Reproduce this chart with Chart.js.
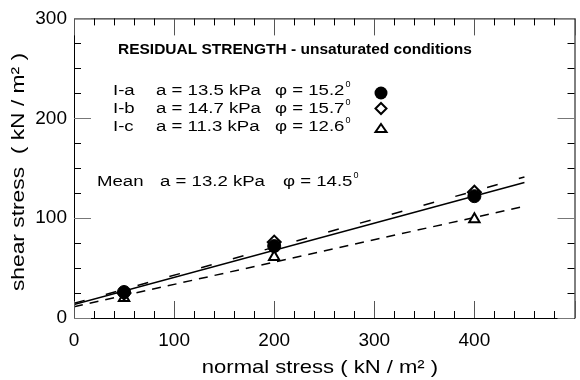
<!DOCTYPE html>
<html>
<head>
<meta charset="utf-8">
<script src="https://cdn.jsdelivr.net/npm/chart.js@4"></script>
<style>
  html, body { margin: 0; padding: 0; background: #fff; }
  #wrap { width: 580px; height: 380px; }
</style>
</head>
<body>
<div id="wrap"><canvas id="chart"></canvas></div>
<script>
// --- data ---
const normalStress = [50, 200, 400];
const shearIa = [26, 72, 122];
const shearIb = [25, 76, 126];
const shearIc = [20, 61, 99];

const seriesNames = ["I-a", "I-b", "I-c"];
const cohesion = [13.5, 14.7, 11.3];      // kPa
const frictionAngle = [15.2, 15.7, 12.6]; // degrees
const meanCohesion = 13.2;
const meanFriction = 14.5;
const fitRange = [0, 450];

const FONT = "'Liberation Sans', Arial, sans-serif";

// straight envelope tau = a + sigma * tan(phi)
function envelope(a, phi) {
    return fitRange.map(s => ({ x: s, y: a + s * Math.tan(phi * Math.PI / 180) }));
}
function pts(ys) {
    return normalStress.map((x, i) => ({ x: x, y: ys[i] }));
}

// frame with inward ticks on all four sides
const framePlugin = {
    id: "frame",
    afterDatasetsDraw(chart) {
        const ctx = chart.ctx;
        const xs = chart.scales.x, ys = chart.scales.y;
        const left = xs.getPixelForValue(0), right = xs.getPixelForValue(500);
        const top = ys.getPixelForValue(300), bottom = ys.getPixelForValue(0);
        ctx.save();
        ctx.strokeStyle = "#000";
        ctx.lineWidth = 1;
        ctx.beginPath();
        ctx.rect(left + 0.5, top + 0.5, right - left, bottom - top);
        ctx.stroke();
        for (let v = 0; v <= 500; v += 20) {
            const px = Math.round(xs.getPixelForValue(v)) + 0.5;
            const len = v % 100 === 0 ? 17 : 7;
            ctx.strokeStyle = v % 100 === 0 ? "#555" : "#000";
            ctx.beginPath();
            ctx.moveTo(px, bottom); ctx.lineTo(px, bottom - len);
            ctx.moveTo(px, top); ctx.lineTo(px, top + len);
            ctx.stroke();
        }
        for (let v = 0; v <= 300; v += 25) {
            const py = Math.round(ys.getPixelForValue(v)) + 0.5;
            const len = v % 100 === 0 ? 17 : 7;
            ctx.strokeStyle = v % 100 === 0 ? "#777" : "#000";
            ctx.beginPath();
            ctx.moveTo(left, py); ctx.lineTo(left + len, py);
            ctx.moveTo(right, py); ctx.lineTo(right - len, py);
            ctx.stroke();
        }
        ctx.restore();
    }
};

// text slightly widened, like the rest of the figure lettering
function wideText(ctx, txt, x, y, font, sx, rot) {
    ctx.save();
    ctx.translate(x, y);
    if (rot) ctx.rotate(rot);
    ctx.scale(sx, 1);
    ctx.font = font;
    ctx.fillText(txt, 0, 0);
    const w = ctx.measureText(txt).width * sx;
    ctx.restore();
    return w;
}

function degText(ctx, txt, x, y, size, sx) {
    const w = wideText(ctx, txt, x, y, size + "px " + FONT, sx);
    ctx.font = Math.round(size * 0.55) + "px " + FONT;
    ctx.fillText("0", x + w + 1, y - size * 0.4);
}

const notesPlugin = {
    id: "notes",
    afterDraw(chart) {
        const ctx = chart.ctx;
        const size = 15.5, sx = 1.2;
        const f = size + "px " + FONT;
        ctx.save();
        ctx.fillStyle = "#000";
        ctx.textBaseline = "middle";
        ctx.font = "bold 15.5px " + FONT;
        ctx.fillText("RESIDUAL STRENGTH - unsaturated conditions", 118, 50);

        const rowY = [91, 109, 127];
        rowY.forEach((y, i) => {
            wideText(ctx, seriesNames[i], 113, y, f, sx);
            wideText(ctx, "a = " + cohesion[i].toFixed(1) + " kPa", 156, y, f, sx);
            degText(ctx, "\u03c6 = " + frictionAngle[i].toFixed(1), 275, y, size, sx);
        });
        wideText(ctx, "Mean", 97, 182, f, sx);
        wideText(ctx, "a = " + meanCohesion.toFixed(1) + " kPa", 160, 182, f, sx);
        degText(ctx, "\u03c6 = " + meanFriction.toFixed(1), 283, 182, size, sx);

        // axis titles
        ctx.textAlign = "center";
        wideText(ctx, "normal stress ( kN / m\u00b2 )", 320, 368, "19px " + FONT, 1.16);
        wideText(ctx, "shear stress  ( kN / m\u00b2 )", 19, 172, "19px " + FONT, 1.2, -Math.PI / 2);
        ctx.textAlign = "left";

        // legend symbols
        const mx = 381;
        ctx.lineWidth = 2;
        ctx.strokeStyle = "#000";
        ctx.beginPath();
        ctx.arc(mx, 93, 6.5, 0, Math.PI * 2);
        ctx.fill();
        ctx.beginPath();
        ctx.moveTo(mx, 103); ctx.lineTo(mx + 5.5, 108.5); ctx.lineTo(mx, 114); ctx.lineTo(mx - 5.5, 108.5);
        ctx.closePath();
        ctx.stroke();
        ctx.beginPath();
        ctx.moveTo(mx, 124); ctx.lineTo(mx + 5.5, 132); ctx.lineTo(mx - 5.5, 132);
        ctx.closePath();
        ctx.stroke();
        ctx.restore();
    }
};

const lineStyle = { showLine: true, pointRadius: 0, borderColor: "#000", borderWidth: 1.5, fill: false, order: 3 };

new Chart(document.getElementById("chart"), {
    type: "scatter",
    data: {
        datasets: [
            { label: "I-a", data: pts(shearIa), pointStyle: "circle", pointRadius: 6.5,
              backgroundColor: "#000", borderColor: "#000", borderWidth: 1, order: 0 },
            { label: "I-b", data: pts(shearIb), pointStyle: "rectRot", pointRadius: 6.5,
              backgroundColor: "#fff", borderColor: "#000", borderWidth: 2, order: 1 },
            { label: "I-c", data: pts(shearIc), pointStyle: "triangle", pointRadius: 6,
              backgroundColor: "#fff", borderColor: "#000", borderWidth: 2, order: 1 },
            Object.assign({ label: "fit I-a", data: envelope(cohesion[0], frictionAngle[0]) }, lineStyle),
            Object.assign({ label: "fit I-b", data: envelope(cohesion[1], frictionAngle[1]), borderDash: [11, 22] }, lineStyle),
            Object.assign({ label: "fit I-c", data: envelope(cohesion[2], frictionAngle[2]), borderDash: [9, 7] }, lineStyle)
        ]
    },
    options: {
        responsive: true,
        maintainAspectRatio: false,
        animation: false,
        layout: { padding: { top: 15, right: 0, left: 0, bottom: 0 } },
        plugins: { legend: { display: false }, tooltip: { enabled: false } },
        scales: {
            x: {
                type: "linear", min: 0, max: 497,
                grid: { display: false, drawTicks: false },
                border: { display: false },
                afterFit: s => { s.height = 62; },
                ticks: {
                    stepSize: 20, includeBounds: false, autoSkip: false, maxRotation: 0, padding: 11,
                    color: "#000", font: { family: FONT, size: 19 },
                    callback: v => v % 100 === 0 ? v : ""
                }
            },
            y: {
                type: "linear", min: 0, max: 300,
                grid: { display: false, drawTicks: false },
                border: { display: false },
                afterFit: s => { s.width = 74; },
                ticks: {
                    stepSize: 25, autoSkip: false, padding: 7,
                    color: "#000", font: { family: FONT, size: 19 },
                    callback: v => v % 100 === 0 ? v : ""
                }
            }
        }
    },
    plugins: [framePlugin, notesPlugin]
});
</script>
</body>
</html>
